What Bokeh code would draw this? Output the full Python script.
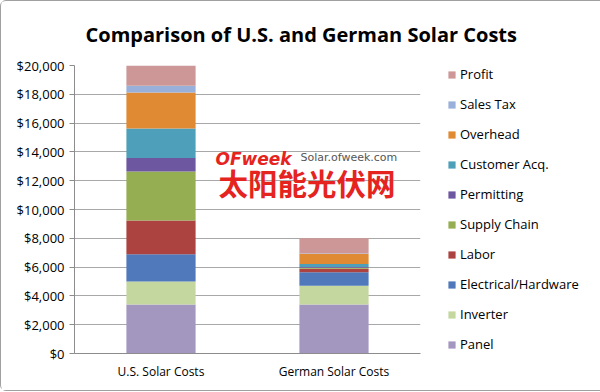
from bokeh.plotting import figure
from bokeh.models import ColumnDataSource, FactorRange, NumeralTickFormatter, Legend, LegendItem, Label, SingleIntervalTicker, Title
from bokeh.embed import file_html
from bokeh.resources import INLINE

categories = ["U.S. Solar Costs", "German Solar Costs"]
series = ["Panel", "Inverter", "Electrical/Hardware", "Labor", "Supply Chain",
          "Permitting", "Customer Acq.", "Overhead", "Sales Tax", "Profit"]
panel = [3400, 3400]
inverter = [1600, 1300]
electrical = [1900, 950]
labor = [2340, 230]
supply_chain = [3400, 80]
permitting = [930, 50]
customer_acq = [2060, 200]
overhead = [2500, 700]
sales_tax = [460, 30]
profit = [1410, 1060]
colors = ["#a397c0", "#c4d79e", "#4f79bb", "#ad4340", "#94ae51",
          "#6d57a0", "#4ea0ba", "#e08a33", "#98b0da", "#cc9796"]

data = {"cat": categories}
for name, vals in zip(series, [panel, inverter, electrical, labor, supply_chain,
                               permitting, customer_acq, overhead, sales_tax, profit]):
    data[name] = vals
source = ColumnDataSource(data)

FONT = "Open Sans"

p = figure(x_range=FactorRange(*categories, range_padding=0), y_range=(0, 20000),
           frame_width=346, frame_height=288, output_backend="svg", toolbar_location=None,
           min_border_left=73, min_border_right=178, min_border_top=64, min_border_bottom=37)

renderers = p.vbar_stack(series, x="cat", width=0.4, source=source, color=colors,
                         line_color=None)

p.yaxis.ticker = SingleIntervalTicker(interval=2000)
p.yaxis.formatter = NumeralTickFormatter(format="$0,0")
p.yaxis.major_label_text_font = FONT
p.yaxis.major_label_text_font_size = "13px"
p.yaxis.major_label_text_color = "#000000"
p.yaxis.major_tick_out = 5
p.yaxis.major_tick_in = 0
p.yaxis.minor_tick_line_color = None
p.yaxis.axis_line_color = "#8c8c8c"
p.yaxis.major_tick_line_color = "#8c8c8c"
p.xaxis.axis_line_color = "#8c8c8c"
p.xaxis.major_tick_line_color = None
p.xaxis.major_label_text_font = FONT
p.xaxis.major_label_text_font_size = "12px"
p.xaxis.major_label_text_color = "#000000"
p.xaxis.major_label_standoff = 3
p.xgrid.grid_line_color = None
p.ygrid.grid_line_color = "#a8a8a8"
p.ygrid.grid_line_width = 1
p.outline_line_color = None
p.background_fill_color = "white"
p.border_fill_color = "white"

items = [LegendItem(label=s, renderers=[r]) for s, r in zip(series, renderers)]
items.reverse()
legend = Legend(items=items, location="center_left", margin=27, padding=0,
                border_line_color=None, glyph_width=9, glyph_height=9,
                label_height=14, spacing=12, label_standoff=4,
                label_text_font=FONT, label_text_font_size="13px",
                label_text_color="#000000", background_fill_alpha=0)
p.add_layout(legend, "right")

title = Title(text="Comparison of U.S. and German Solar Costs", align="left", offset=11,
              text_font=FONT, text_font_style="bold", text_font_size="20px",
              text_color="#000000", standoff=35)
p.add_layout(title, "above")

wm1 = Label(x=141, y=195, x_units="screen", y_units="screen", text="OFweek",
            text_font="DejaVu Sans", text_font_style="bold italic", text_font_size="17px",
            text_color="#e5231f", text_baseline="middle")
wm2 = Label(x=226, y=196, x_units="screen", y_units="screen", text="Solar.ofweek.com",
            text_font="DejaVu Sans", text_font_size="11px",
            text_color="#555555", text_baseline="middle")
wm3 = Label(x=144, y=172, x_units="screen", y_units="screen", text="太阳能光伏网",
            text_font="Noto Sans CJK SC", text_font_style="bold", text_font_size="29.5px",
            text_color="#e5231f", text_baseline="middle")
for w in (wm1, wm2, wm3):
    p.add_layout(w)

p.styles = {"border": "1px solid #a0a0a0", "border-radius": "6px"}

open("out.html", "w").write(file_html(p, INLINE))
